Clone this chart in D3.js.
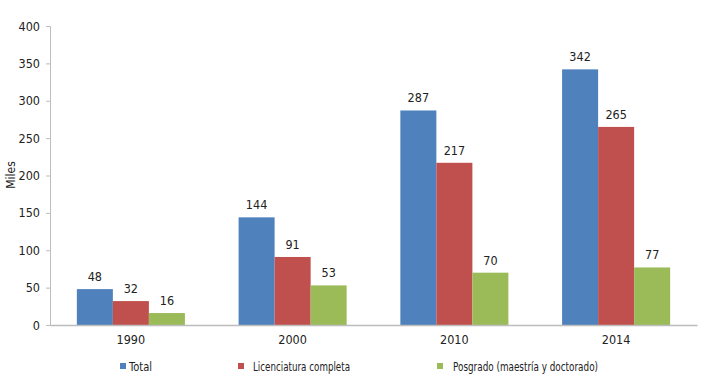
<!DOCTYPE html>
<html><head><meta charset="utf-8">
<script src="https://cdn.jsdelivr.net/npm/d3@7"></script>
<style>
body{margin:0;background:#fff;}
text{font-family:"Liberation Sans Narrow","DejaVu Sans Condensed","Roboto Condensed",sans-serif;fill:#222;}
</style></head>
<body><svg id="c" width="709" height="387"></svg>
<script>
const years = ["1990","2000","2010","2014"];
const seriesNames = ["Total","Licenciatura completa","Posgrado (maestría y doctorado)"];
const total = [48,144,287,342];
const licenciatura = [32,91,217,265];
const posgrado = [16,53,70,77];
const yTicks = [0,50,100,150,200,250,300,350,400];
const colors = ["#4F81BD","#C0504D","#9BBB59"];
const values = [total, licenciatura, posgrado];

const svg = d3.select("#c");
const mLeft = 50, mRight = 697, mTop = 26, mBottom = 325;

const y = d3.scaleLinear().domain([0,400]).range([mBottom, mTop]);
const x0 = d3.scaleBand().domain(years).range([mLeft, mRight]).paddingInner(0.332).paddingOuter(0.166);
const x1 = d3.scaleBand().domain(d3.range(3)).range([0, x0.bandwidth()]);

// y axis
const yAxis = d3.axisLeft(y).tickValues(yTicks).tickSize(4).tickPadding(6);
const gy = svg.append("g").attr("transform", `translate(${mLeft},0)`).call(yAxis);
gy.select(".domain").attr("stroke","#bdbdbd");
gy.selectAll(".tick line").attr("stroke","#bdbdbd");
gy.selectAll(".tick text").style("font-size","12.5px").attr("fill","#222");

// bars
years.forEach((yr, i) => {
  const g = svg.append("g").attr("transform", `translate(${x0(yr)},0)`);
  values.forEach((arr, s) => {
    g.append("rect")
      .attr("x", x1(s)).attr("width", x1.bandwidth())
      .attr("y", y(arr[i])).attr("height", y(0) - y(arr[i]))
      .attr("fill", colors[s]);
    g.append("text")
      .attr("x", x1(s) + x1.bandwidth()/2)
      .attr("y", y(arr[i]) - 8)
      .attr("text-anchor","middle")
      .style("font-size","12.5px")
      .text(arr[i]);
  });
});

// x axis
const xAxis = d3.axisBottom(x0).tickSize(0).tickPadding(10);
const gx = svg.append("g").attr("transform", `translate(0,${mBottom})`).call(xAxis);
gx.select(".domain").attr("stroke","#bdbdbd").attr("stroke-width",1.5);
gx.selectAll(".tick text").style("font-size","12.5px").attr("fill","#222");

// y label
svg.append("text").attr("transform","translate(15,175) rotate(-90)")
  .attr("text-anchor","middle").style("font-size","12px").text("Miles");

// legend
const legX = [120, 238, 437];
const legTX = [129, 253, 453];
const legW = [23, 97, 145];
seriesNames.forEach((n, s) => {
  svg.append("rect").attr("x", legX[s]).attr("y", 363).attr("width", 6).attr("height", 6).attr("fill", colors[s]);
  svg.append("text").attr("x", legTX[s]).attr("y", 371).style("font-size","13px")
    .attr("textLength", legW[s]).attr("lengthAdjust","spacingAndGlyphs").text(n);
});
</script></body></html>
